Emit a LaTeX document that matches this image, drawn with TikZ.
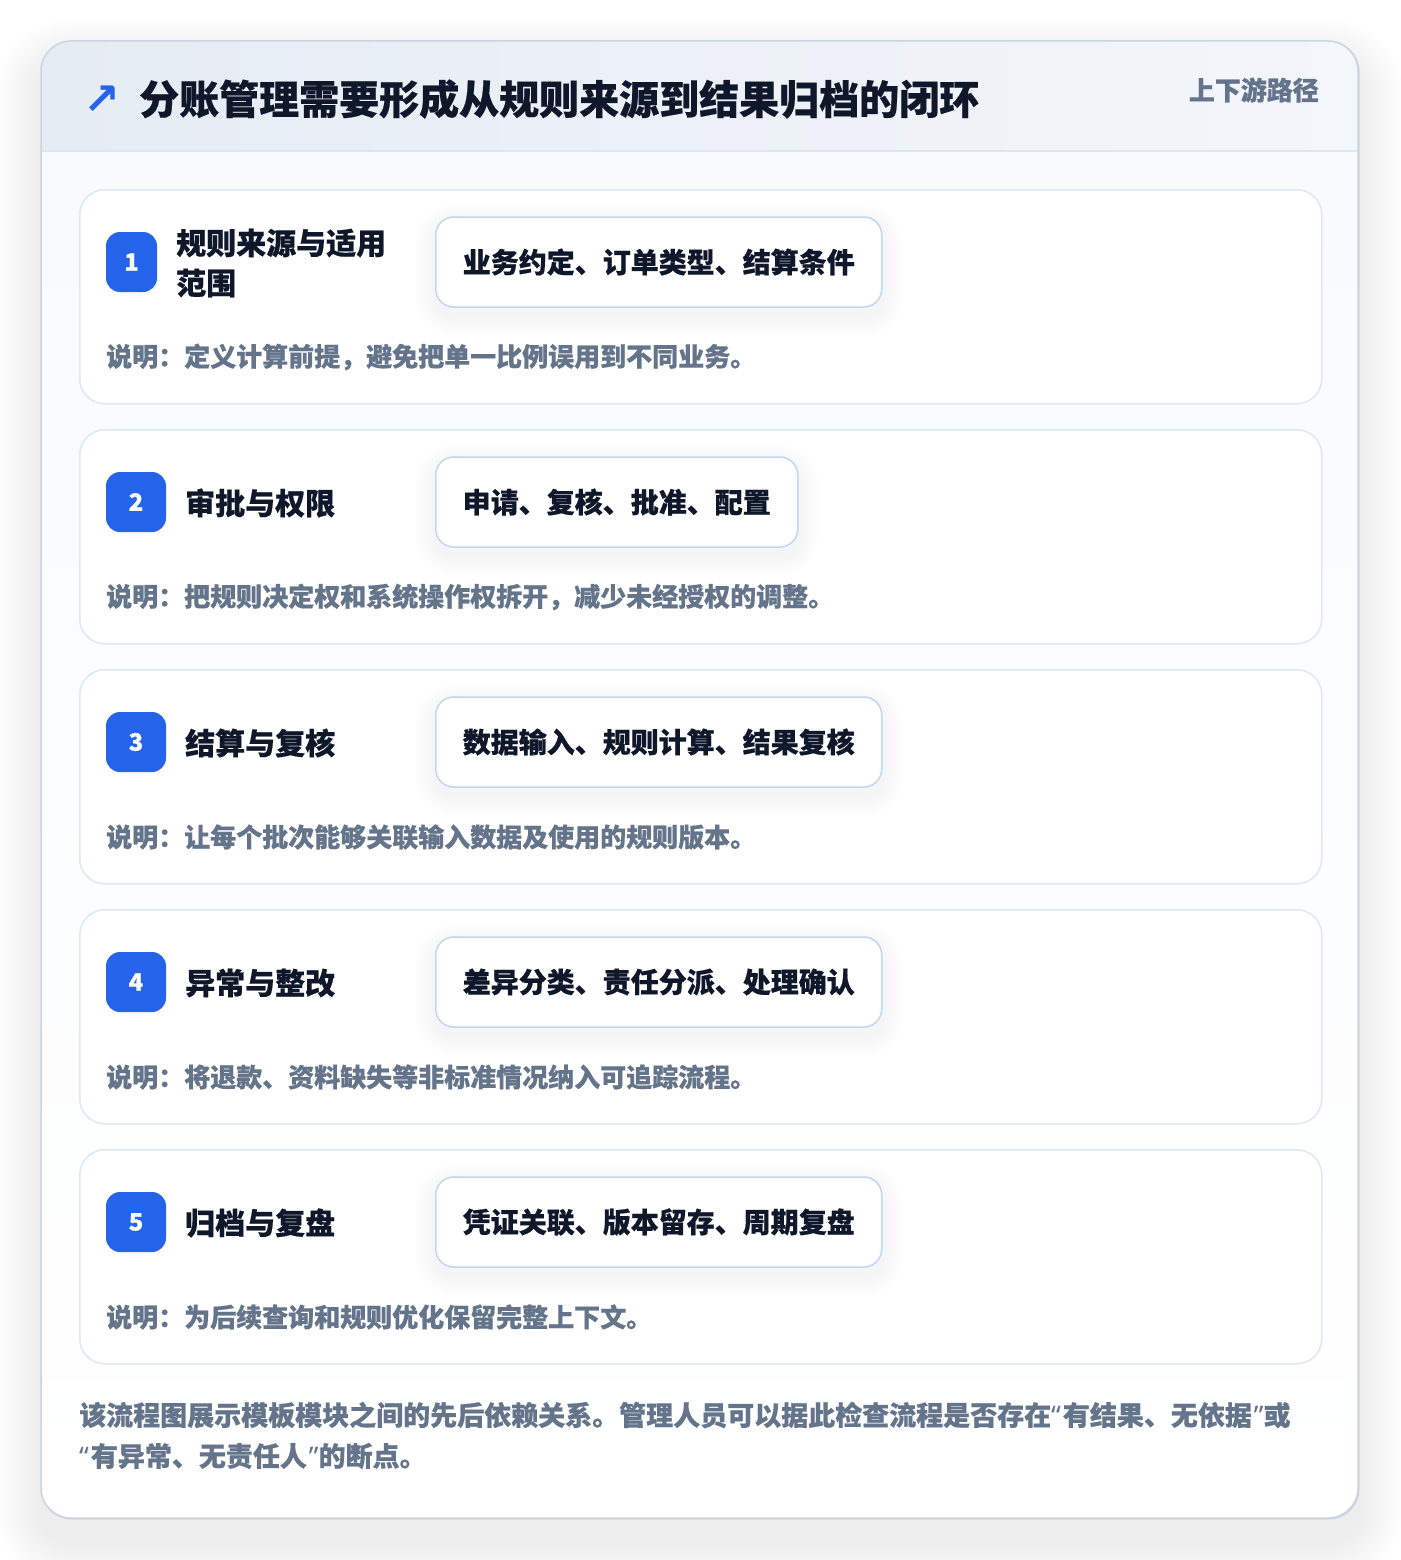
\documentclass[tikz,border=0pt]{standalone}
\usepackage{fontspec}
\setmainfont{Noto Sans CJK SC}[BoldFeatures={FakeBold=0.5}]
\newfontfamily\symfont{DejaVu Sans}
\newfontfamily\quotefont{Noto Sans}[BoldFeatures={FakeBold=0.4}]
\usetikzlibrary{calc}
\definecolor{pagebg}{HTML}{FFFFFF}
\definecolor{mainborder}{HTML}{CBD5E1}
\definecolor{stepborder}{HTML}{DCE7F7}
\definecolor{pillborder}{HTML}{BFD7F5}
\definecolor{badgeblue}{HTML}{2563EB}
\definecolor{ink}{HTML}{0F172A}
\definecolor{muted}{HTML}{64748B}
\definecolor{headA}{HTML}{E6ECF4}
\definecolor{headB}{HTML}{F3F6FA}
\definecolor{headline}{HTML}{DCE7F5}
\definecolor{cardfill}{HTML}{F8FAFC}
\definecolor{shadowc}{HTML}{334155}
\tikzset{
  maincard/.style={draw=mainborder, line width=1.5pt, rounded corners=30pt, inner sep=0pt},
  stepcard/.style={draw=stepborder, line width=1.5pt, fill=white, rounded corners=25pt, inner sep=0pt,
     minimum width=1242pt, minimum height=214pt, anchor=north west},
  pillbox/.style={draw=pillborder, line width=1.5pt, fill=white, rounded corners=18pt, minimum height=90pt,
     inner xsep=27pt, inner ysep=0pt, anchor=west, text=ink, font=\bfseries\fontsize{28}{34}\selectfont},
  badge/.style={fill=badgeblue, rounded corners=14pt, minimum height=60pt, inner sep=0pt, text=white,
     font=\bfseries\fontsize{24}{26}\selectfont},
  steptitle/.style={anchor=west, text=ink, inner sep=0pt, font=\bfseries\fontsize{30}{40}\selectfont, align=left},
  caption/.style={anchor=west, text=muted, inner sep=0pt, font=\bfseries\fontsize{26}{30}\selectfont},
  foottext/.style={anchor=west, text=muted, inner sep=0pt, font=\bfseries\fontsize{27}{32}\selectfont},
}
\newcommand\myopenq{{\quotefont\bfseries “}\kern2pt}
\newcommand\mycloseq{\kern2pt{\quotefont\bfseries ”}}
\newcommand\pillshadow[1]{%
  \foreach \k in {1,...,10}{%
    \fill[shadowc, opacity=0.005, rounded corners={18+\k*2}]
      ($(pill#1.south west)+({-\k*2},{\k*2+8})$) rectangle ($(pill#1.north east)+({\k*2},{-\k*2+8})$);
  }%
}
\newcommand\mystep[8]{%
  % #1 id, #2 top, #3 badge width, #4 title x, #5 title, #6 pill, #7 caption, #8 number
  \node[stepcard] (card#1) at (79,#2) {};
  \node[badge, minimum width=#3pt] (badge#1) at ({106+#3/2},{#2+73}) {#8};
  \node[steptitle] (title#1) at (#4,{#2+74}) {#5};
  \path node[pillbox, draw=none, fill=none, text opacity=0] (pill#1) at (435,{#2+73}) {#6};
  \pillshadow{#1}
  \node[pillbox] (pillv#1) at (435,{#2+73}) {#6};
  \node[caption] (cap#1) at (106,{#2+168}) {#7};
}
\begin{document}
\begin{tikzpicture}[x=1pt,y=-1pt]
\useasboundingbox (0,0) rectangle (1400,1560);
\fill[pagebg] (0,0) rectangle (1400,1560);
% main card shadow
\foreach \k in {1,...,18}{%
  \fill[shadowc, opacity=0.0045, rounded corners={30+\k*2.5}]
    ({41-\k*2.5},{41-\k*2.5+22}) rectangle ({1358+\k*2.5},{1518+\k*2.5+22});
}
\node[maincard, fill=cardfill, minimum width=1317pt, minimum height=1477pt, anchor=north west] (main) at (41,41) {};
\begin{scope}
  \clip[rounded corners=30pt] (41,41) rectangle (1358,1518);
  \shade[top color=cardfill, bottom color=white] (41,151) rectangle (1358,1518);
  \shade[left color=headA, right color=headB] (41,41) rectangle (1358,151);
\end{scope}
\draw[headline, line width=1.5pt] (41,151) -- (1358,151);
\draw[mainborder, line width=1.5pt, rounded corners=30pt] (41,41) rectangle (1358,1518);
% header
\node[anchor=center, text=badgeblue, inner sep=0pt, font=\symfont\bfseries\fontsize{44}{44}\selectfont] (icon) at (102,100) {↗};
\node[anchor=west, text=ink, inner sep=0pt, font=\bfseries\fontsize{40}{48}\selectfont] (title) at (139,99) {分账管理需要形成从规则来源到结果归档的闭环};
\node[anchor=east, text=muted, inner sep=0pt, font=\bfseries\fontsize{26}{30}\selectfont] (tag) at (1319,90) {上下游路径};
% steps
\mystep{1}{189}{51}{176}{规则来源与适用\\范围}{业务约定、订单类型、结算条件}{说明：定义计算前提，避免把单一比例误用到不同业务。}{1}
\mystep{2}{429}{60}{185}{审批与权限}{申请、复核、批准、配置}{说明：把规则决定权和系统操作权拆开，减少未经授权的调整。}{2}
\mystep{3}{669}{60}{185}{结算与复核}{数据输入、规则计算、结果复核}{说明：让每个批次能够关联输入数据及使用的规则版本。}{3}
\mystep{4}{909}{60}{185}{异常与整改}{差异分类、责任分派、处理确认}{说明：将退款、资料缺失等非标准情况纳入可追踪流程。}{4}
\mystep{5}{1149}{60}{185}{归档与复盘}{凭证关联、版本留存、周期复盘}{说明：为后续查询和规则优化保留完整上下文。}{5}
% footer
\node[foottext] (foot1) at (79,1415) {该流程图展示模板模块之间的先后依赖关系。管理人员可以据此检查流程是否存在\myopenq 有结果、无依据\mycloseq 或};
\node[foottext] (foot2) at (79,1456) {\myopenq 有异常、无责任人\mycloseq 的断点。};
\end{tikzpicture}
\end{document}
